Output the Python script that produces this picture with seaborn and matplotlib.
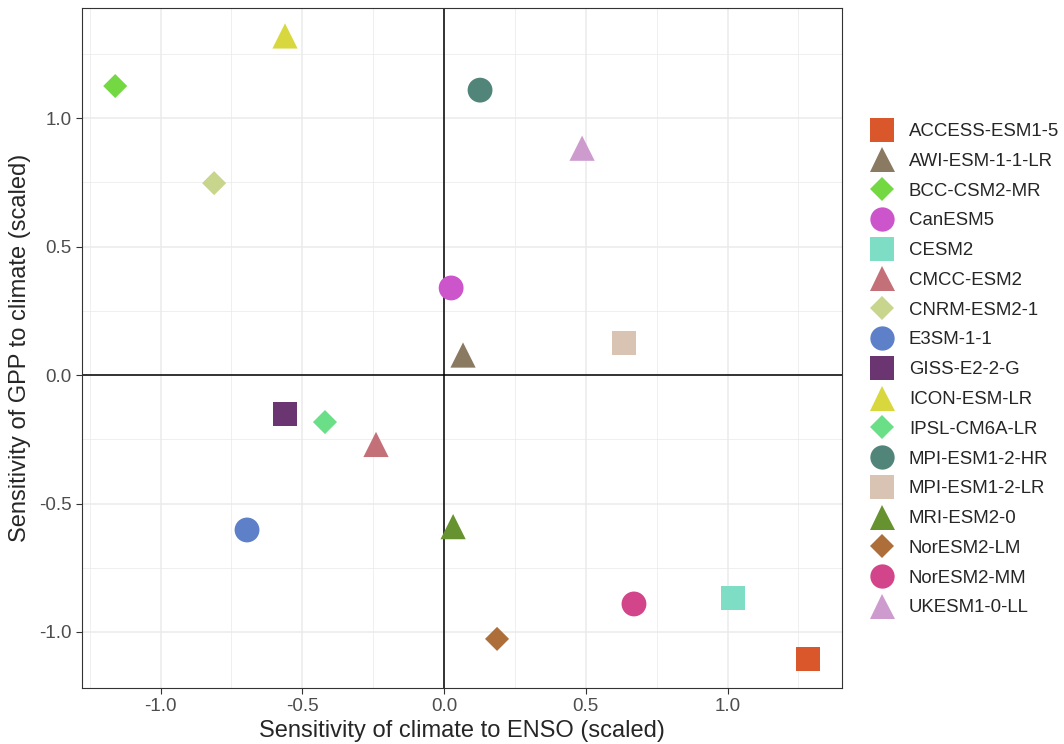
import numpy as np
import pandas as pd
import matplotlib
matplotlib.use("Agg")
import matplotlib.pyplot as plt
import seaborn as sns
from matplotlib.lines import Line2D

models = ["ACCESS-ESM1-5", "AWI-ESM-1-1-LR", "BCC-CSM2-MR", "CanESM5", "CESM2",
          "CMCC-ESM2", "CNRM-ESM2-1", "E3SM-1-1", "GISS-E2-2-G", "ICON-ESM-LR",
          "IPSL-CM6A-LR", "MPI-ESM1-2-HR", "MPI-ESM1-2-LR", "MRI-ESM2-0",
          "NorESM2-LM", "NorESM2-MM", "UKESM1-0-LL"]
enso = [1.284, 0.067, -1.160, 0.025, 1.019, -0.240, -0.811, -0.695, -0.561, -0.561,
        -0.420, 0.127, 0.635, 0.032, 0.187, 0.670, 0.487]
gpp = [-1.105, 0.078, 1.125, 0.339, -0.868, -0.270, 0.747, -0.603, -0.152, 1.320,
       -0.183, 1.109, 0.125, -0.590, -1.027, -0.891, 0.883]
shapes = ["square", "triangle", "diamond", "circle", "square", "triangle", "diamond",
          "circle", "square", "triangle", "diamond", "circle", "square", "triangle",
          "diamond", "circle", "triangle"]
colors = ["#D9572A", "#8A7A62", "#74D843", "#CC55CC", "#7EDEC5", "#C47079", "#C8D58C",
          "#5E80C9", "#6A3570", "#D8D83E", "#6ADF87", "#52857A", "#D9C3B2", "#66922F",
          "#AD6E3A", "#D3458A", "#CE9BCE"]

mk = {"square": "s", "triangle": "^", "diamond": "D", "circle": "o"}
sz = {"square": 300, "triangle": 330, "diamond": 150, "circle": 320}
msz = {"square": 17, "triangle": 18, "diamond": 12, "circle": 17.5}

df = pd.DataFrame({"model": models, "enso": enso, "gpp": gpp, "shape": shapes})
palette = dict(zip(models, colors))

sns.set_style("white")
plt.rcParams["font.family"] = ["Liberation Sans", "DejaVu Sans"]

fig = plt.figure(figsize=(10.64, 7.44), dpi=100)
ax = fig.add_axes([0.0771, 0.0753, 0.7143, 0.9137])

for s in ["square", "triangle", "diamond", "circle"]:
    sub = df[df["shape"] == s]
    sns.scatterplot(data=sub, x="enso", y="gpp", hue="model", palette=palette,
                    marker=mk[s], s=sz[s], linewidth=0, legend=False, ax=ax, zorder=3)

ax.set_xlim(-1.277, 1.404)
ax.set_ylim(-1.218, 1.428)
ax.set_xticks([-1.0, -0.5, 0.0, 0.5, 1.0])
ax.set_xticklabels(["-1.0", "-0.5", "0.0", "0.5", "1.0"])
ax.set_yticks([-1.0, -0.5, 0.0, 0.5, 1.0])
ax.set_yticklabels(["-1.0", "-0.5", "0.0", "0.5", "1.0"])
ax.set_xticks([-1.25, -0.75, -0.25, 0.25, 0.75, 1.25], minor=True)
ax.set_yticks([-0.75, -0.25, 0.25, 0.75, 1.25], minor=True)
ax.grid(which="major", color="#EBEBEB", linewidth=1.1, zorder=0)
ax.grid(which="minor", color="#EBEBEB", linewidth=0.55, zorder=0)
ax.set_axisbelow(True)
ax.axhline(0, color="black", linewidth=1.1, zorder=2)
ax.axvline(0, color="black", linewidth=1.1, zorder=2)

for sp in ax.spines.values():
    sp.set_color("#333333")
    sp.set_linewidth(0.8)
ax.tick_params(axis="both", which="major", length=4, width=0.8, color="#333333",
               labelsize=13.5, labelcolor="#4D4D4D", direction="out", bottom=True, left=True)
ax.tick_params(axis="both", which="minor", length=0)
ax.set_xlabel("Sensitivity of climate to ENSO (scaled)", fontsize=17, labelpad=3)
ax.set_ylabel("Sensitivity of GPP to climate (scaled)", fontsize=17, labelpad=6)

handles = [Line2D([], [], linestyle="none", marker=mk[s], color=c, markersize=msz[s],
                  markeredgewidth=0) for s, c in zip(shapes, colors)]
ax.legend(handles, models, loc="upper left", bbox_to_anchor=(1.023, 0.842), frameon=False,
          fontsize=13.4, handletextpad=0.65, labelspacing=0.685, borderaxespad=0,
          handlelength=1.6)

fig.savefig("out.png", dpi=100)
